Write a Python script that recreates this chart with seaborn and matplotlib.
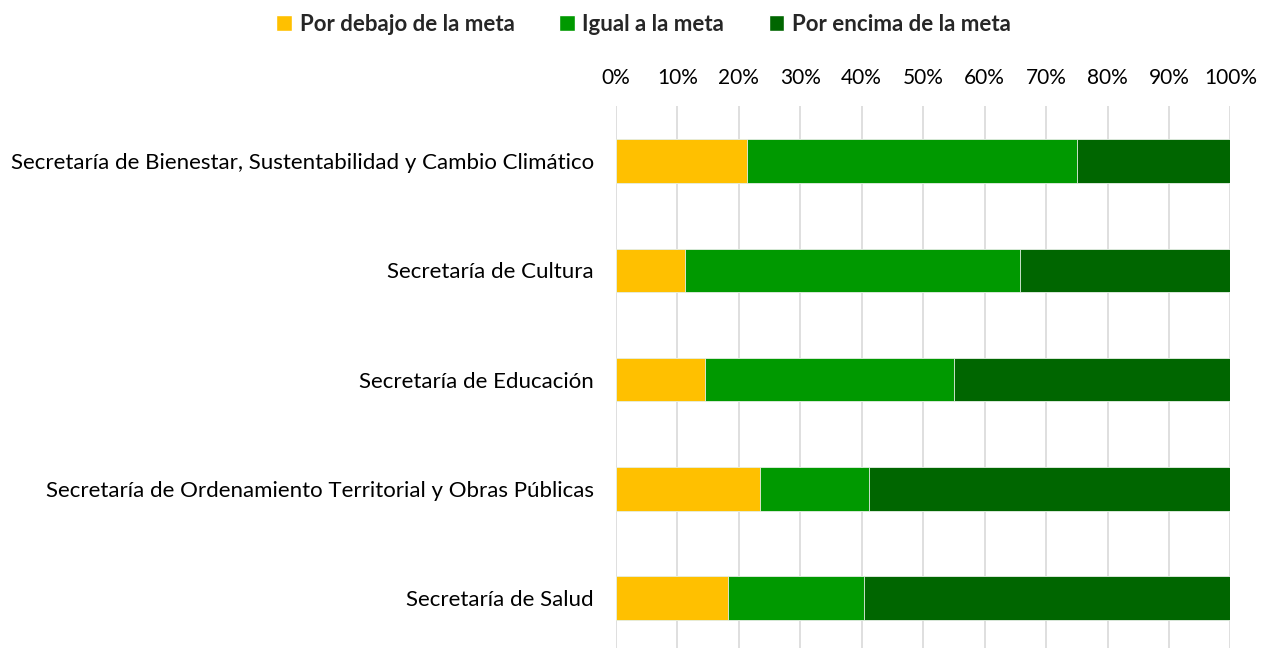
import pandas as pd
import matplotlib.pyplot as plt
import seaborn as sns
from matplotlib.patches import Patch

# Data (percent of goals per secretaría)
secretarias = [
    "Secretaría de Bienestar, Sustentabilidad y Cambio Climático",
    "Secretaría de Cultura",
    "Secretaría de Educación",
    "Secretaría de Ordenamiento Territorial y Obras Públicas",
    "Secretaría de Salud",
]
por_debajo = [21.4, 11.3, 14.5, 23.5, 18.2]
igual = [53.6, 54.5, 40.6, 17.7, 22.2]
por_encima = [25.0, 34.2, 44.9, 58.8, 59.6]

series = ["Por debajo de la meta", "Igual a la meta", "Por encima de la meta"]
colors = ["#FFC000", "#009900", "#006600"]

df = pd.DataFrame({
    "Secretaría": secretarias,
    "debajo": por_debajo,
    "igual": igual,
    "encima": por_encima,
})
# cumulative ends for stacked bars
df["c1"] = df["debajo"]
df["c2"] = df["debajo"] + df["igual"]
df["c3"] = df["c2"] + df["encima"]

sns.set_style("white")
plt.rcParams["font.family"] = ["Lato", "DejaVu Sans"]

fig, ax = plt.subplots(figsize=(12.62, 6.48), dpi=100)
fig.subplots_adjust(left=0.488, right=0.975, top=0.836, bottom=0.0)

for col, color in zip(["c3", "c2", "c1"], colors[::-1]):
    sns.barplot(data=df, x=col, y="Secretaría", color=color, width=0.4,
                saturation=1, orient="h", ax=ax, errorbar=None,
                edgecolor="#e8f0e8", linewidth=0.6, zorder=3)

ax.set_xlim(0, 100)
ax.set_ylim(4.458, -0.503)
ax.set_xticks(range(0, 101, 10))
ax.set_xticklabels([f"{v}%" for v in range(0, 101, 10)])
ax.xaxis.tick_top()
ax.tick_params(axis="both", length=0, colors="#000000")
ax.tick_params(axis="x", pad=13, labelsize=15)
ax.tick_params(axis="y", pad=16, labelsize=16)
ax.set_xlabel("")
ax.set_ylabel("")
ax.grid(axis="x", color="#d9d9d9", linewidth=1.2, zorder=0)
ax.set_axisbelow(True)
sns.despine(ax=ax, left=True, bottom=True, top=True, right=True)

handles = [Patch(facecolor=c, label=s) for s, c in zip(series, colors)]
fig.legend(handles=handles, loc="upper center", bbox_to_anchor=(0.51, 1.01),
           ncol=3, frameon=False, handlelength=0.7, handleheight=0.7,
           handletextpad=0.35, columnspacing=2.0,
           prop={"weight": "bold", "size": 16})

fig.savefig("out.png", dpi=100)
